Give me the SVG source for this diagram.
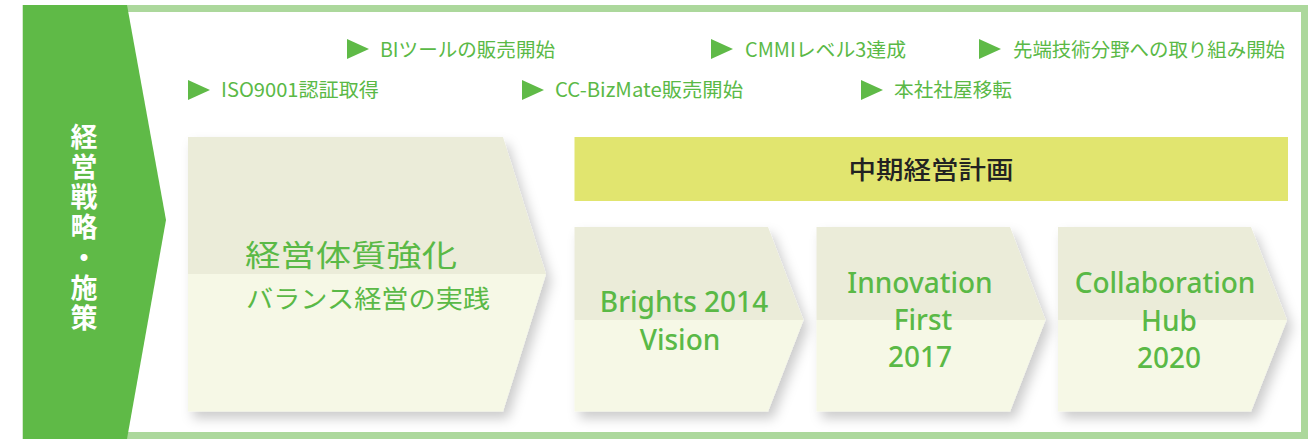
<svg xmlns="http://www.w3.org/2000/svg" width="1316" height="439" viewBox="0 0 1316 439">
<defs>
<filter id="sh" x="-10%" y="-10%" width="130%" height="130%">
<feDropShadow dx="5" dy="7" stdDeviation="6" flood-color="#000" flood-opacity="0.2"/>
</filter>
<style>
.ev{font-family:"Noto Sans CJK JP","Noto Sans",sans-serif;font-size:19.5px;fill:#5ab946}
.tri{fill:#5fba47}
.top{fill:#ebecd9}
.bot{fill:#f6f8e6}
.big{font-family:"Noto Sans CJK JP",sans-serif;fill:#5ab946;font-weight:400}
.en{font-family:"Noto Sans","Open Sans",sans-serif;font-size:28px;fill:#5ab946;text-anchor:middle;font-weight:500}
.vt{font-family:"Noto Sans CJK JP",sans-serif;font-size:27px;font-weight:bold;fill:#fff;writing-mode:vertical-rl;letter-spacing:3.2px}
</style>
</defs>
<rect width="1316" height="439" fill="#fff"/>
<g id="frame">
<rect x="26" y="8.5" width="1278.5" height="427" fill="none" stroke="#acd89c" stroke-width="7"/>
</g>
<g id="label">
<polygon points="23,5 127,5 166,220 127,439 23,439" fill="#5fba47"/>
<text class="vt" x="84" y="123">経営戦略・施策</text>
</g>
<g id="events">
<g id="ev-bi"><polygon class="tri" points="347,39 369,49 347,59"/><text class="ev" x="380" y="57" textLength="175" lengthAdjust="spacingAndGlyphs">BIツールの販売開始</text></g>
<g id="ev-cmmi"><polygon class="tri" points="711,39 733,49 711,59"/><text class="ev" x="745" y="57" textLength="161" lengthAdjust="spacingAndGlyphs">CMMIレベル3達成</text></g>
<g id="ev-tech"><polygon class="tri" points="979,39 1001,49 979,59"/><text class="ev" x="1013" y="57" textLength="272" lengthAdjust="spacingAndGlyphs">先端技術分野への取り組み開始</text></g>
<g id="ev-iso"><polygon class="tri" points="188,80 210,90 188,100"/><text class="ev" x="221" y="97" textLength="158" lengthAdjust="spacingAndGlyphs">ISO9001認証取得</text></g>
<g id="ev-cc"><polygon class="tri" points="522,80 544,90 522,100"/><text class="ev" x="555" y="97" textLength="188" lengthAdjust="spacingAndGlyphs">CC-BizMate販売開始</text></g>
<g id="ev-hq"><polygon class="tri" points="861,80 883,90 861,100"/><text class="ev" x="894" y="97" textLength="118" lengthAdjust="spacingAndGlyphs">本社社屋移転</text></g>
</g>
<g id="node-main">
<g filter="url(#sh)">
<polygon class="top" points="188,137 503,137 546,274 188,274"/>
<polygon class="bot" points="188,274 546,274 503,411.5 188,411.5"/>
</g>
<text class="big" x="245" y="266" font-size="30" textLength="212" lengthAdjust="spacingAndGlyphs">経営体質強化</text>
<text class="big" x="246" y="308" font-size="25" textLength="244" lengthAdjust="spacingAndGlyphs">バランス経営の実践</text>
</g>
<g id="node-plan">
<rect x="574.5" y="137" width="713.5" height="64" fill="#e1e56f"/>
<text x="931" y="179" font-family="Noto Sans CJK JP,sans-serif" font-size="25" font-weight="500" fill="#222" text-anchor="middle" textLength="165" lengthAdjust="spacingAndGlyphs">中期経営計画</text>
</g>
<g id="node-2014">
<g filter="url(#sh)">
<polygon class="top" points="574.5,227 768,227 803.5,320 574.5,320"/>
<polygon class="bot" points="574.5,320 803.5,320 768,411.5 574.5,411.5"/>
</g>
<text class="en" x="684" y="312">Brights 2014</text>
<text class="en" x="680" y="350">Vision</text>
</g>
<g id="node-2017">
<g filter="url(#sh)">
<polygon class="top" points="816.5,227 1010,227 1045.5,320 816.5,320"/>
<polygon class="bot" points="816.5,320 1045.5,320 1010,411.5 816.5,411.5"/>
</g>
<text class="en" x="920" y="293">Innovation</text>
<text class="en" x="923" y="330">First</text>
<text class="en" x="920" y="367">2017</text>
</g>
<g id="node-2020">
<g filter="url(#sh)">
<polygon class="top" points="1058,227 1251,227 1287,320 1058,320"/>
<polygon class="bot" points="1058,320 1287,320 1251,411.5 1058,411.5"/>
</g>
<text class="en" x="1165" y="293">Collaboration</text>
<text class="en" x="1169" y="331">Hub</text>
<text class="en" x="1169" y="368">2020</text>
</g>
<g id="connectors"/>
</svg>
